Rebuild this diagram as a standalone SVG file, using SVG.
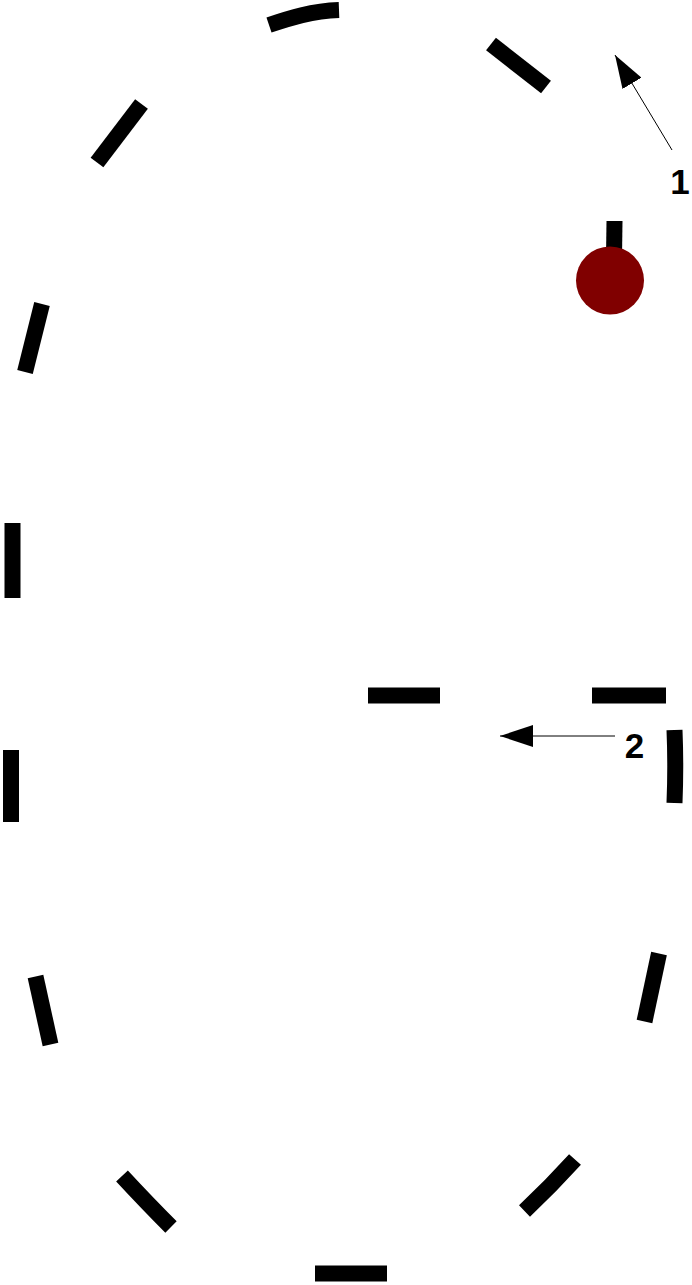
<svg xmlns="http://www.w3.org/2000/svg" width="692" height="1285" viewBox="0 0 692 1285">
  <style>
    .dash { fill: none; stroke: #000; stroke-width: 16; stroke-linecap: butt; }
    .lead { fill: none; stroke: #000; stroke-width: 1; }
    .lbl { font-family: "Liberation Sans", Arial, sans-serif; font-weight: bold; font-size: 35px; fill: #000; text-anchor: middle; }
  </style>
  <defs>
    <marker id="arr" markerUnits="userSpaceOnUse" markerWidth="34" markerHeight="22" refX="33" refY="11" orient="auto">
      <path d="M0,0 L33,11 L0,22 z" fill="#000"/>
    </marker>
  </defs>
  <g id="track">
    <path class="dash" d="M614,258 L614.5,221"/>
    <path class="dash" d="M546,87 L491,44"/>
    <path class="dash" d="M339,10 C312,11 290,18 269,25"/>
    <path class="dash" d="M141.5,104 L97,162.5"/>
    <path class="dash" d="M42,304 L25,372"/>
    <path class="dash" d="M12.5,523 L12.5,598"/>
    <path class="dash" d="M11,750 L11,822"/>
    <path class="dash" d="M35.5,976.5 L50.5,1044.5"/>
    <path class="dash" d="M122,1176 Q148,1204 171,1227"/>
    <path class="dash" d="M315,1273.5 L387,1273.5"/>
    <path class="dash" d="M524.5,1211 Q551,1186 575,1159.5"/>
    <path class="dash" d="M644.5,1021.5 L659,953.5"/>
    <path class="dash" d="M674.5,803 Q676,766 674.5,730"/>
    <path class="dash" d="M666,695.5 L592,695.5"/>
    <path class="dash" d="M440,695.5 L368,695.5"/>
  </g>
  <g id="start">
    <circle cx="610" cy="280.5" r="34" fill="#800000"/>
  </g>
  <g id="connectors">
    <line class="lead" x1="672" y1="150" x2="615" y2="55" marker-end="url(#arr)"/>
    <line class="lead" x1="615" y1="736" x2="500" y2="736" marker-end="url(#arr)"/>
  </g>
  <g id="label1"><text class="lbl" x="680" y="194">1</text></g>
  <g id="label2"><text class="lbl" x="634.5" y="757.5">2</text></g>
</svg>
